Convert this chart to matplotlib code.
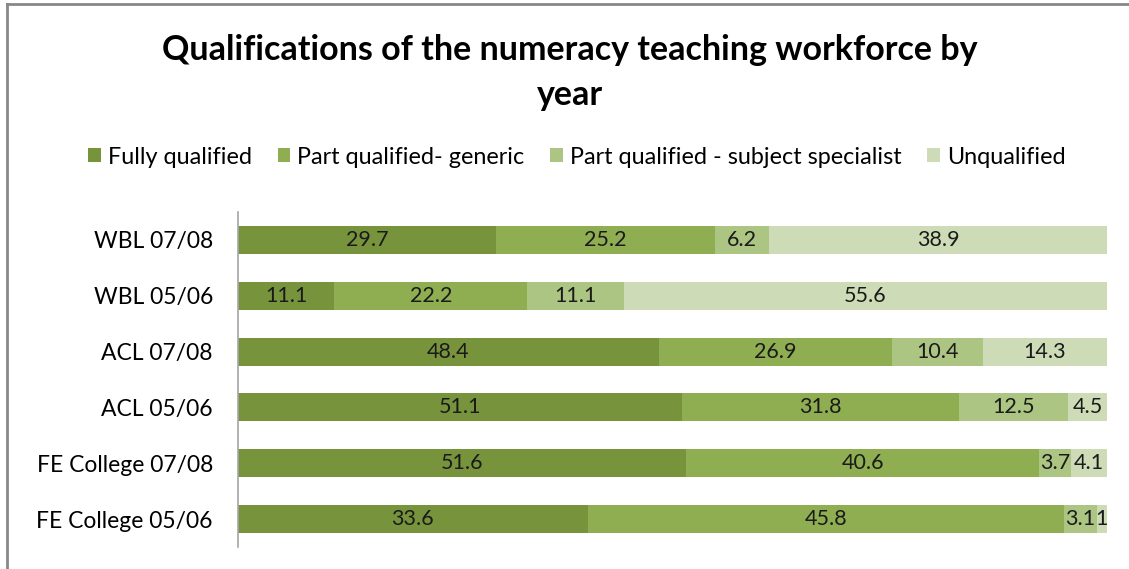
import matplotlib.pyplot as plt
import numpy as np

plt.rcParams['font.family'] = ['Lato', 'DejaVu Sans']

categorias = ["WBL 07/08", "WBL 05/06", "ACL 07/08", "ACL 05/06",
              "FE College 07/08", "FE College 05/06"]
series = ["Fully qualified", "Part qualified- generic",
          "Part qualified - subject specialist", "Unqualified"]
fully = [29.7, 11.1, 48.4, 51.1, 51.6, 33.6]
generic = [25.2, 22.2, 26.9, 31.8, 40.6, 45.8]
specialist = [6.2, 11.1, 10.4, 12.5, 3.7, 3.1]
unqualified = [38.9, 55.6, 14.3, 4.5, 4.1, 1]
colores = ["#77933C", "#8FAD51", "#ADC582", "#CEDBB7"]

valores = np.array([fully, generic, specialist, unqualified])
totales = valores.sum(axis=0)
porcentajes = valores / totales * 100

fig = plt.figure(figsize=(11.29, 5.69), dpi=100)
ax = fig.add_axes([0.2108, 0.0387, 0.7697, 0.5887])

y = np.arange(len(categorias))
izquierda = np.zeros(len(categorias))
for i, nombre in enumerate(series):
    barras = ax.barh(y, porcentajes[i], left=izquierda, height=0.5,
                     color=colores[i], label=nombre)
    for j, b in enumerate(barras):
        cx = b.get_x() + b.get_width() / 2
        ax.text(cx, y[j], f"{valores[i][j]:g}", ha='center', va='center',
                fontsize=15.5, color='#1a1a1a')
    izquierda += porcentajes[i]

ax.set_xlim(0, 100)
ax.set_ylim(len(categorias) - 0.5, -0.5)
ax.set_yticks(y)
ax.set_yticklabels(categorias, fontsize=16.5)
ax.tick_params(axis='y', length=0, pad=18)
ax.set_xticks([])
for lado in ['top', 'right', 'bottom']:
    ax.spines[lado].set_visible(False)
ax.spines['left'].set_color('#a6a6a6')
ax.spines['left'].set_linewidth(1.2)

fig.text(0.505, 0.912, "Qualifications of the numeracy teaching workforce by",
         ha='center', va='center', fontsize=24.5, fontweight='bold')
fig.text(0.505, 0.833, "year", ha='center', va='center',
         fontsize=24.5, fontweight='bold')

fig.legend(loc='center', bbox_to_anchor=(0.511, 0.724), ncol=4, frameon=False,
           fontsize=16.8, handlelength=0.55, handleheight=0.55,
           handletextpad=0.3, columnspacing=1.1)

# borde del área del gráfico
fig.add_artist(plt.Line2D([0.0062, 0.0062], [0, 0.993], transform=fig.transFigure,
                          color='#888888', linewidth=2))
fig.add_artist(plt.Line2D([0.0062, 1], [0.993, 0.993], transform=fig.transFigure,
                          color='#888888', linewidth=2))

fig.savefig("out.png", dpi=100)
